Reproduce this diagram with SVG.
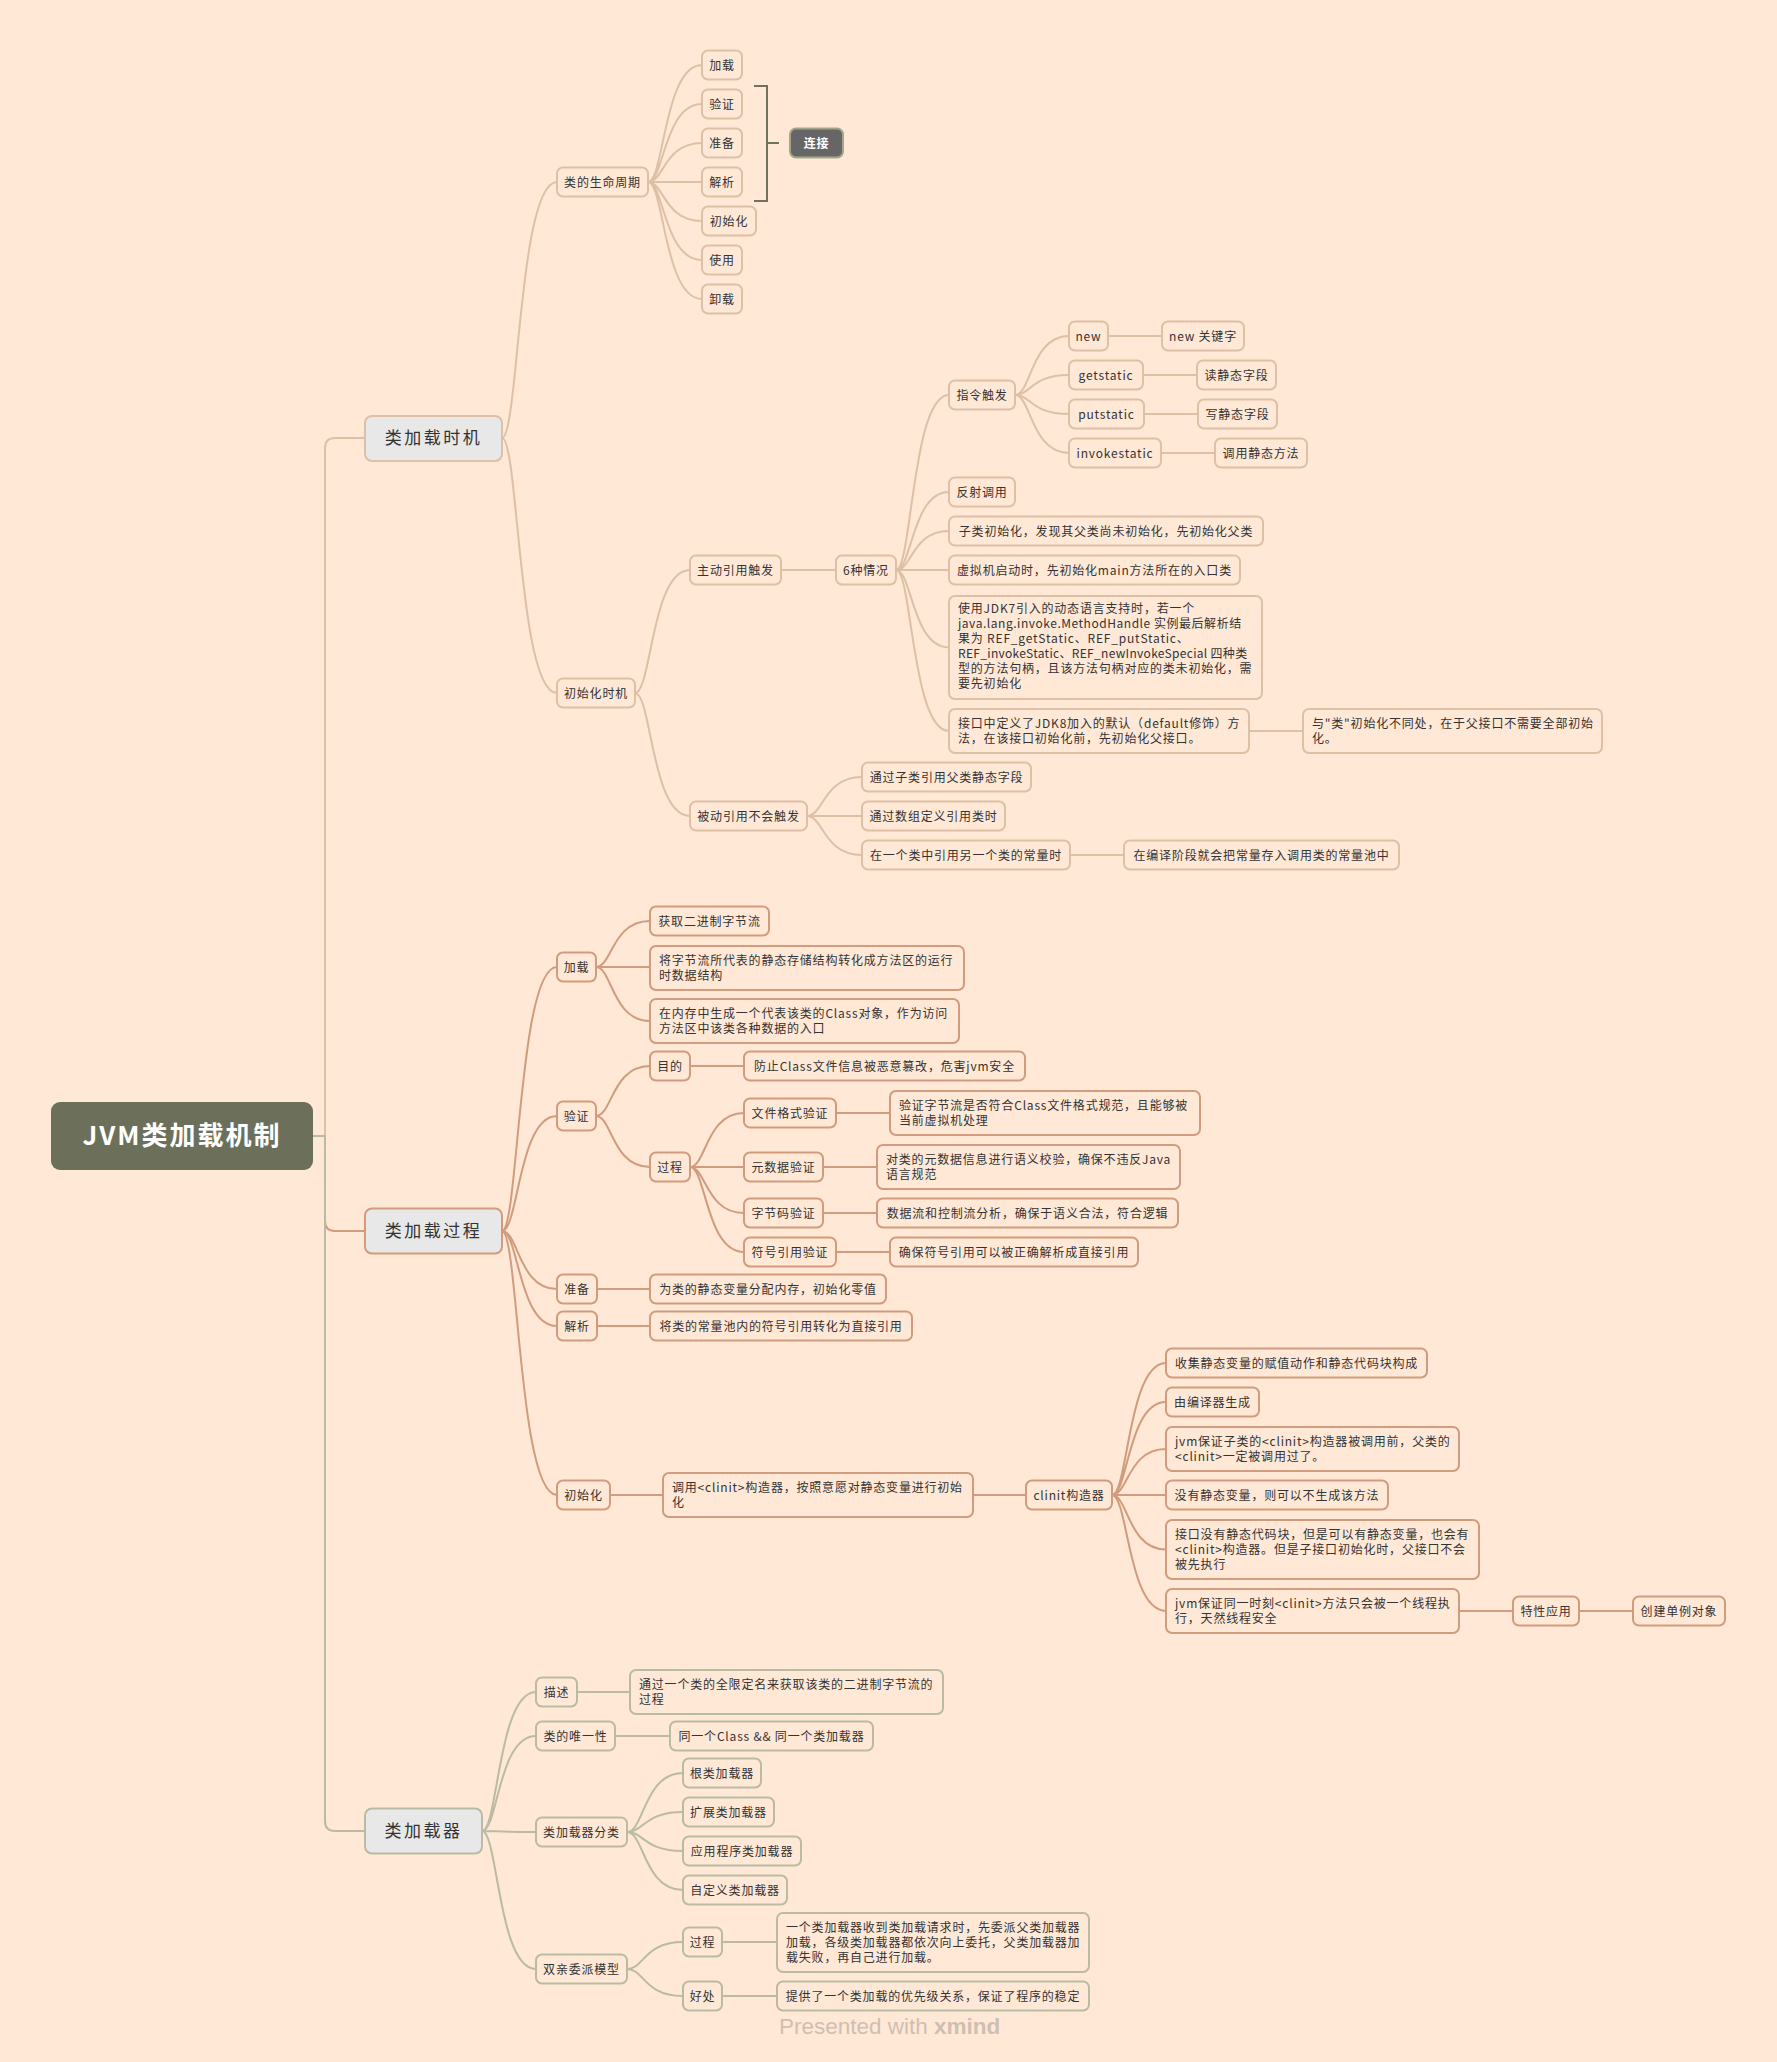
<svg xmlns="http://www.w3.org/2000/svg" width="1777" height="2062" viewBox="0 0 1777 2062">
<style>
.t{font-family:"Noto Sans CJK SC","Noto Sans",sans-serif;font-size:12px;letter-spacing:0.8px;fill:#333}
.c{text-anchor:middle}
.mt{font-family:"Noto Sans CJK SC","Noto Sans",sans-serif;font-size:17px;letter-spacing:2.5px;fill:#333;text-anchor:middle}
.r1{fill:#FFE8D6;stroke:#DEC0A6;stroke-width:2}
.r2{fill:#FFE8D6;stroke:#D19C7D;stroke-width:2}
.r3{fill:#FFE8D6;stroke:#BABBA3;stroke-width:2}
.mf{fill:#E8E8E8}
.l1{fill:none;stroke:#DEC0A6;stroke-width:2}
.l2{fill:none;stroke:#D19C7D;stroke-width:2}
.l3{fill:none;stroke:#BABBA3;stroke-width:2}
</style>
<rect width="1777" height="2062" fill="#FFE8D6"/>
<g id="connectors">
<path class="l1" d="M313,1136 H325 V448 Q325,438 335,438 H365"/>
<path class="l2" d="M313,1136 H325 V1221 Q325,1231 335,1231 H365"/>
<path class="l3" d="M313,1136 H325 V1821 Q325,1831 335,1831 H365"/>
<path class="l1" d="M502,438 C518.5,438 518.5,182 557,182 M502,438 C518.5,438 518.5,693 557,693"/>
<path class="l1" d="M648,182 C664,182 664,65 702,65 M648,182 C664,182 664,104 702,104 M648,182 C664,182 664,143 702,143 M648,182 H702 M648,182 C664,182 664,221 702,221 M648,182 C664,182 664,260 702,260 M648,182 C664,182 664,299 702,299"/>
<path class="l1" d="M635,693 C651.5,693 651.5,570 690,570 M635,693 C651.5,693 651.5,816 690,816 M781,570 H836"/>
<path class="l1" d="M896,570 C912,570 912,395 949,395 M896,570 C912,570 912,492 949,492 M896,570 C912,570 912,531 949,531 M896,570 H949 M896,570 C912,570 912,647.5 949,647.5 M896,570 C912,570 912,731 949,731"/>
<path class="l1" d="M1015,395 C1031,395 1031,336 1069,336 M1015,395 C1031,395 1031,375 1069,375 M1015,395 C1031,395 1031,414 1069,414 M1015,395 C1031,395 1031,453 1069,453"/>
<path class="l1" d="M1108,336 H1162 M1143,375 H1197 M1144,414 H1198 M1161,453 H1215 M1249,731 H1303"/>
<path class="l1" d="M807,816 C823.5,816 823.5,777 862,777 M807,816 H862 M807,816 C823.5,816 823.5,855 862,855 M1070,855 H1124"/>
<path d="M754,86 H767 V201 H754 M767,143 H779" fill="none" stroke="#6E7360" stroke-width="2"/>
<path class="l2" d="M502,1231 C518.5,1231 518.5,967 557,967 M502,1231 C518.5,1231 518.5,1116 557,1116 M502,1231 C518.5,1231 518.5,1289 557,1289 M502,1231 C518.5,1231 518.5,1326 557,1326 M502,1231 C518.5,1231 518.5,1495 557,1495"/>
<path class="l2" d="M596,967 C612,967 612,921 650,921 M596,967 H650 M596,967 C612,967 612,1021 650,1021"/>
<path class="l2" d="M596,1116 C612,1116 612,1066 650,1066 M596,1116 C612,1116 612,1167 650,1167 M690,1066 H744"/>
<path class="l2" d="M690,1167 C706,1167 706,1113 744,1113 M690,1167 H744 M690,1167 C706,1167 706,1213 744,1213 M690,1167 C706,1167 706,1252 744,1252"/>
<path class="l2" d="M836,1113 H890 M823,1167 H877 M823,1213 H877 M836,1252 H890 M597,1289 H650 M597,1326 H650 M610,1495 H663 M973,1495 H1026"/>
<path class="l2" d="M1112,1495 C1128,1495 1128,1363 1166,1363 M1112,1495 C1128,1495 1128,1402 1166,1402 M1112,1495 C1128,1495 1128,1449 1166,1449 M1112,1495 H1166 M1112,1495 C1128,1495 1128,1549.5 1166,1549.5 M1112,1495 C1128,1495 1128,1611 1166,1611"/>
<path class="l2" d="M1459,1611 H1513 M1579,1611 H1633"/>
<path class="l3" d="M482,1831 C498,1831 498,1692 536,1692 M482,1831 C498,1831 498,1736 536,1736 M482,1831 C498,1831 498,1832 536,1832 M482,1831 C498,1831 498,1969 536,1969"/>
<path class="l3" d="M577,1692 H630 M615,1736 H670"/>
<path class="l3" d="M627,1832 C644,1832 644,1773 683,1773 M627,1832 C644,1832 644,1812 683,1812 M627,1832 C644,1832 644,1851 683,1851 M627,1832 C644,1832 644,1890 683,1890"/>
<path class="l3" d="M627,1969 C644,1969 644,1942 683,1942 M627,1969 C644,1969 644,1996 683,1996 M722,1942 H777 M722,1996 H777"/>
</g>
<g id="root"><rect x="51" y="1102" width="262" height="68" rx="9" fill="#6C705B"/><text x="182" y="1145" font-family="'Noto Sans CJK SC','Noto Sans',sans-serif" font-size="26" font-weight="bold" letter-spacing="2" fill="#fff" text-anchor="middle">JVM类加载机制</text></g>
<g id="n-timing"><rect class="r1 mf" x="365" y="416" width="137" height="45" rx="7"/><text class="mt" x="433.5" y="444">类加载时机</text></g>
<g id="n-lifecycle"><rect class="r1" x="557" y="167.5" width="91" height="29" rx="6"/><text class="t c" x="602.5" y="186.5">类的生命周期</text></g>
<g id="n-lc1"><rect class="r1" x="702" y="50.5" width="40" height="29" rx="6"/><text class="t c" x="722" y="69.5">加载</text></g>
<g id="n-lc2"><rect class="r1" x="702" y="89.5" width="40" height="29" rx="6"/><text class="t c" x="722" y="108.5">验证</text></g>
<g id="n-lc3"><rect class="r1" x="702" y="128.5" width="40" height="29" rx="6"/><text class="t c" x="722" y="147.5">准备</text></g>
<g id="n-lc4"><rect class="r1" x="702" y="167.5" width="40" height="29" rx="6"/><text class="t c" x="722" y="186.5">解析</text></g>
<g id="n-lc5"><rect class="r1" x="702" y="206.5" width="54" height="29" rx="6"/><text class="t c" x="729" y="225.5">初始化</text></g>
<g id="n-lc6"><rect class="r1" x="702" y="245.5" width="40" height="29" rx="6"/><text class="t c" x="722" y="264.5">使用</text></g>
<g id="n-lc7"><rect class="r1" x="702" y="284.5" width="40" height="29" rx="6"/><text class="t c" x="722" y="303.5">卸载</text></g>
<g id="n-link"><rect x="790" y="128.5" width="53" height="29" rx="6" fill="#666" stroke="#A5A58C" stroke-width="2"/><text class="t c" x="816.5" y="147.5" style="fill:#fff;font-weight:bold">连接</text></g>
<g id="n-inittime"><rect class="r1" x="557" y="678.5" width="78" height="29" rx="6"/><text class="t c" x="596" y="697.5">初始化时机</text></g>
<g id="n-active"><rect class="r1" x="690" y="555.5" width="91" height="29" rx="6"/><text class="t c" x="735.5" y="574.5">主动引用触发</text></g>
<g id="n-six"><rect class="r1" x="836" y="555.5" width="60" height="29" rx="6"/><text class="t c" x="866" y="574.5">6种情况</text></g>
<g id="n-instr"><rect class="r1" x="949" y="380.5" width="66" height="29" rx="6"/><text class="t c" x="982" y="399.5">指令触发</text></g>
<g id="n-new"><rect class="r1" x="1069" y="321.5" width="39" height="29" rx="6"/><text class="t c" x="1088.5" y="340.5">new</text></g>
<g id="n-new2"><rect class="r1" x="1162" y="321.5" width="82" height="29" rx="6"/><text class="t c" x="1203" y="340.5">new 关键字</text></g>
<g id="n-get"><rect class="r1" x="1069" y="360.5" width="74" height="29" rx="6"/><text class="t c" x="1106" y="379.5">getstatic</text></g>
<g id="n-get2"><rect class="r1" x="1197" y="360.5" width="79" height="29" rx="6"/><text class="t c" x="1236.5" y="379.5">读静态字段</text></g>
<g id="n-put"><rect class="r1" x="1069" y="399.5" width="75" height="29" rx="6"/><text class="t c" x="1106.5" y="418.5">putstatic</text></g>
<g id="n-put2"><rect class="r1" x="1198" y="399.5" width="79" height="29" rx="6"/><text class="t c" x="1237.5" y="418.5">写静态字段</text></g>
<g id="n-inv"><rect class="r1" x="1069" y="438.5" width="92" height="29" rx="6"/><text class="t c" x="1115" y="457.5">invokestatic</text></g>
<g id="n-inv2"><rect class="r1" x="1215" y="438.5" width="92" height="29" rx="6"/><text class="t c" x="1261" y="457.5">调用静态方法</text></g>
<g id="n-refl"><rect class="r1" x="949" y="477.5" width="66" height="29" rx="6"/><text class="t c" x="982" y="496.5">反射调用</text></g>
<g id="n-sub"><rect class="r1" x="949" y="516.5" width="314" height="29" rx="6"/><text class="t c" x="1106" y="535.5">子类初始化，发现其父类尚未初始化，先初始化父类</text></g>
<g id="n-vm"><rect class="r1" x="949" y="555.5" width="291" height="29" rx="6"/><text class="t c" x="1094.5" y="574.5">虚拟机启动时，先初始化main方法所在的入口类</text></g>
<g id="n-jdk7"><rect class="r1" x="949" y="596" width="313" height="103" rx="6"/><text class="t" x="958" y="613">使用JDK7引入的动态语言支持时，若一个</text><text class="t" x="958" y="628" textLength="284" lengthAdjust="spacing">java.lang.invoke.MethodHandle 实例最后解析结</text><text class="t" x="958" y="643">果为 REF_getStatic、REF_putStatic、</text><text class="t" x="958" y="658" textLength="290" lengthAdjust="spacing">REF_invokeStatic、REF_newInvokeSpecial 四种类</text><text class="t" x="958" y="673">型的方法句柄，且该方法句柄对应的类未初始化，需</text><text class="t" x="958" y="688">要先初始化</text></g>
<g id="n-iface"><rect class="r1" x="949" y="709" width="300" height="44" rx="6"/><text class="t" x="958" y="728">接口中定义了JDK8加入的默认（default修饰）方</text><text class="t" x="958" y="743">法，在该接口初始化前，先初始化父接口。</text></g>
<g id="n-iface2"><rect class="r1" x="1303" y="709" width="299" height="44" rx="6"/><text class="t" x="1312" y="728">与"类"初始化不同处，在于父接口不需要全部初始</text><text class="t" x="1312" y="743">化。</text></g>
<g id="n-passive"><rect class="r1" x="690" y="801.5" width="117" height="29" rx="6"/><text class="t c" x="748.5" y="820.5">被动引用不会触发</text></g>
<g id="n-p1"><rect class="r1" x="862" y="762.5" width="169" height="29" rx="6"/><text class="t c" x="946.5" y="781.5">通过子类引用父类静态字段</text></g>
<g id="n-p2"><rect class="r1" x="862" y="801.5" width="143" height="29" rx="6"/><text class="t c" x="933.5" y="820.5">通过数组定义引用类时</text></g>
<g id="n-p3"><rect class="r1" x="862" y="840.5" width="208" height="29" rx="6"/><text class="t c" x="966" y="859.5">在一个类中引用另一个类的常量时</text></g>
<g id="n-p3b"><rect class="r1" x="1124" y="840.5" width="275" height="29" rx="6"/><text class="t c" x="1261.5" y="859.5">在编译阶段就会把常量存入调用类的常量池中</text></g>
<g id="n-process"><rect class="r2 mf" x="365" y="1208.5" width="137" height="45" rx="7"/><text class="mt" x="433.5" y="1237">类加载过程</text></g>
<g id="n-load"><rect class="r2" x="557" y="952.5" width="39" height="29" rx="6"/><text class="t c" x="576.5" y="971.5">加载</text></g>
<g id="n-load1"><rect class="r2" x="650" y="906.5" width="119" height="29" rx="6"/><text class="t c" x="709.5" y="925.5">获取二进制字节流</text></g>
<g id="n-load2"><rect class="r2" x="650" y="946" width="314" height="44" rx="6"/><text class="t" x="659" y="965">将字节流所代表的静态存储结构转化成方法区的运行</text><text class="t" x="659" y="980">时数据结构</text></g>
<g id="n-load3"><rect class="r2" x="650" y="999" width="309" height="44" rx="6"/><text class="t" x="659" y="1018">在内存中生成一个代表该类的Class对象，作为访问</text><text class="t" x="659" y="1033">方法区中该类各种数据的入口</text></g>
<g id="n-verify"><rect class="r2" x="557" y="1101.5" width="39" height="29" rx="6"/><text class="t c" x="576.5" y="1120.5">验证</text></g>
<g id="n-goal"><rect class="r2" x="650" y="1051.5" width="40" height="29" rx="6"/><text class="t c" x="670" y="1070.5">目的</text></g>
<g id="n-goal1"><rect class="r2" x="744" y="1051.5" width="281" height="29" rx="6"/><text class="t c" x="884.5" y="1070.5">防止Class文件信息被恶意篡改，危害jvm安全</text></g>
<g id="n-vproc"><rect class="r2" x="650" y="1152.5" width="40" height="29" rx="6"/><text class="t c" x="670" y="1171.5">过程</text></g>
<g id="n-v1"><rect class="r2" x="744" y="1098.5" width="92" height="29" rx="6"/><text class="t c" x="790" y="1117.5">文件格式验证</text></g>
<g id="n-v1b"><rect class="r2" x="890" y="1091" width="310" height="44" rx="6"/><text class="t" x="899" y="1110">验证字节流是否符合Class文件格式规范，且能够被</text><text class="t" x="899" y="1125">当前虚拟机处理</text></g>
<g id="n-v2"><rect class="r2" x="744" y="1152.5" width="79" height="29" rx="6"/><text class="t c" x="783.5" y="1171.5">元数据验证</text></g>
<g id="n-v2b"><rect class="r2" x="877" y="1145" width="303" height="44" rx="6"/><text class="t" x="886" y="1164">对类的元数据信息进行语义校验，确保不违反Java</text><text class="t" x="886" y="1179">语言规范</text></g>
<g id="n-v3"><rect class="r2" x="744" y="1198.5" width="79" height="29" rx="6"/><text class="t c" x="783.5" y="1217.5">字节码验证</text></g>
<g id="n-v3b"><rect class="r2" x="877" y="1198.5" width="301" height="29" rx="6"/><text class="t c" x="1027.5" y="1217.5">数据流和控制流分析，确保于语义合法，符合逻辑</text></g>
<g id="n-v4"><rect class="r2" x="744" y="1237.5" width="92" height="29" rx="6"/><text class="t c" x="790" y="1256.5">符号引用验证</text></g>
<g id="n-v4b"><rect class="r2" x="890" y="1237.5" width="248" height="29" rx="6"/><text class="t c" x="1014" y="1256.5">确保符号引用可以被正确解析成直接引用</text></g>
<g id="n-prep"><rect class="r2" x="557" y="1274.5" width="40" height="29" rx="6"/><text class="t c" x="577" y="1293.5">准备</text></g>
<g id="n-prep1"><rect class="r2" x="650" y="1274.5" width="236" height="29" rx="6"/><text class="t c" x="768" y="1293.5">为类的静态变量分配内存，初始化零值</text></g>
<g id="n-res"><rect class="r2" x="557" y="1311.5" width="40" height="29" rx="6"/><text class="t c" x="577" y="1330.5">解析</text></g>
<g id="n-res1"><rect class="r2" x="650" y="1311.5" width="262" height="29" rx="6"/><text class="t c" x="781" y="1330.5">将类的常量池内的符号引用转化为直接引用</text></g>
<g id="n-init"><rect class="r2" x="557" y="1480.5" width="53" height="29" rx="6"/><text class="t c" x="583.5" y="1499.5">初始化</text></g>
<g id="n-init1"><rect class="r2" x="663" y="1473" width="310" height="44" rx="6"/><text class="t" x="672" y="1492">调用&lt;clinit&gt;构造器，按照意愿对静态变量进行初始</text><text class="t" x="672" y="1507">化</text></g>
<g id="n-clinit"><rect class="r2" x="1026" y="1480.5" width="86" height="29" rx="6"/><text class="t c" x="1069" y="1499.5">clinit构造器</text></g>
<g id="n-c1"><rect class="r2" x="1166" y="1348.5" width="261" height="29" rx="6"/><text class="t c" x="1296.5" y="1367.5">收集静态变量的赋值动作和静态代码块构成</text></g>
<g id="n-c2"><rect class="r2" x="1166" y="1387.5" width="93" height="29" rx="6"/><text class="t c" x="1212.5" y="1406.5">由编译器生成</text></g>
<g id="n-c3"><rect class="r2" x="1166" y="1427" width="293" height="44" rx="6"/><text class="t" x="1175" y="1446">jvm保证子类的&lt;clinit&gt;构造器被调用前，父类的</text><text class="t" x="1175" y="1461">&lt;clinit&gt;一定被调用过了。</text></g>
<g id="n-c4"><rect class="r2" x="1166" y="1480.5" width="222" height="29" rx="6"/><text class="t c" x="1277" y="1499.5">没有静态变量，则可以不生成该方法</text></g>
<g id="n-c5"><rect class="r2" x="1166" y="1520" width="313" height="59" rx="6"/><text class="t" x="1175" y="1539">接口没有静态代码块，但是可以有静态变量，也会有</text><text class="t" x="1175" y="1554">&lt;clinit&gt;构造器。但是子接口初始化时，父接口不会</text><text class="t" x="1175" y="1569">被先执行</text></g>
<g id="n-c6"><rect class="r2" x="1166" y="1589" width="293" height="44" rx="6"/><text class="t" x="1175" y="1608">jvm保证同一时刻&lt;clinit&gt;方法只会被一个线程执</text><text class="t" x="1175" y="1623">行，天然线程安全</text></g>
<g id="n-c6a"><rect class="r2" x="1513" y="1596.5" width="66" height="29" rx="6"/><text class="t c" x="1546" y="1615.5">特性应用</text></g>
<g id="n-c6b"><rect class="r2" x="1633" y="1596.5" width="92" height="29" rx="6"/><text class="t c" x="1679" y="1615.5">创建单例对象</text></g>
<g id="n-loader"><rect class="r3 mf" x="365" y="1808.5" width="117" height="45" rx="7"/><text class="mt" x="423.5" y="1837">类加载器</text></g>
<g id="n-desc"><rect class="r3" x="536" y="1677.5" width="41" height="29" rx="6"/><text class="t c" x="556.5" y="1696.5">描述</text></g>
<g id="n-desc1"><rect class="r3" x="630" y="1670" width="313" height="44" rx="6"/><text class="t" x="639" y="1689">通过一个类的全限定名来获取该类的二进制字节流的</text><text class="t" x="639" y="1704">过程</text></g>
<g id="n-uniq"><rect class="r3" x="536" y="1721.5" width="79" height="29" rx="6"/><text class="t c" x="575.5" y="1740.5">类的唯一性</text></g>
<g id="n-uniq1"><rect class="r3" x="670" y="1721.5" width="203" height="29" rx="6"/><text class="t c" x="771.5" y="1740.5">同一个Class &amp;&amp; 同一个类加载器</text></g>
<g id="n-kinds"><rect class="r3" x="536" y="1817.5" width="91" height="29" rx="6"/><text class="t c" x="581.5" y="1836.5">类加载器分类</text></g>
<g id="n-k1"><rect class="r3" x="683" y="1758.5" width="78" height="29" rx="6"/><text class="t c" x="722" y="1777.5">根类加载器</text></g>
<g id="n-k2"><rect class="r3" x="683" y="1797.5" width="91" height="29" rx="6"/><text class="t c" x="728.5" y="1816.5">扩展类加载器</text></g>
<g id="n-k3"><rect class="r3" x="683" y="1836.5" width="118" height="29" rx="6"/><text class="t c" x="742" y="1855.5">应用程序类加载器</text></g>
<g id="n-k4"><rect class="r3" x="683" y="1875.5" width="104" height="29" rx="6"/><text class="t c" x="735" y="1894.5">自定义类加载器</text></g>
<g id="n-parent"><rect class="r3" x="536" y="1954.5" width="91" height="29" rx="6"/><text class="t c" x="581.5" y="1973.5">双亲委派模型</text></g>
<g id="n-pp"><rect class="r3" x="683" y="1927.5" width="39" height="29" rx="6"/><text class="t c" x="702.5" y="1946.5">过程</text></g>
<g id="n-pp1"><rect class="r3" x="777" y="1913" width="312" height="59" rx="6"/><text class="t" x="786" y="1932">一个类加载器收到类加载请求时，先委派父类加载器</text><text class="t" x="786" y="1947">加载，各级类加载器都依次向上委托，父类加载器加</text><text class="t" x="786" y="1962">载失败，再自己进行加载。</text></g>
<g id="n-pb"><rect class="r3" x="683" y="1981.5" width="39" height="29" rx="6"/><text class="t c" x="702.5" y="2000.5">好处</text></g>
<g id="n-pb1"><rect class="r3" x="777" y="1981.5" width="312" height="29" rx="6"/><text class="t c" x="933" y="2000.5">提供了一个类加载的优先级关系，保证了程序的稳定</text></g>
<text x="779" y="2034" font-family="'Liberation Sans',sans-serif" font-size="22.5" fill="#CDBFB2">Presented with <tspan font-weight="bold">xmind</tspan></text>
</svg>
